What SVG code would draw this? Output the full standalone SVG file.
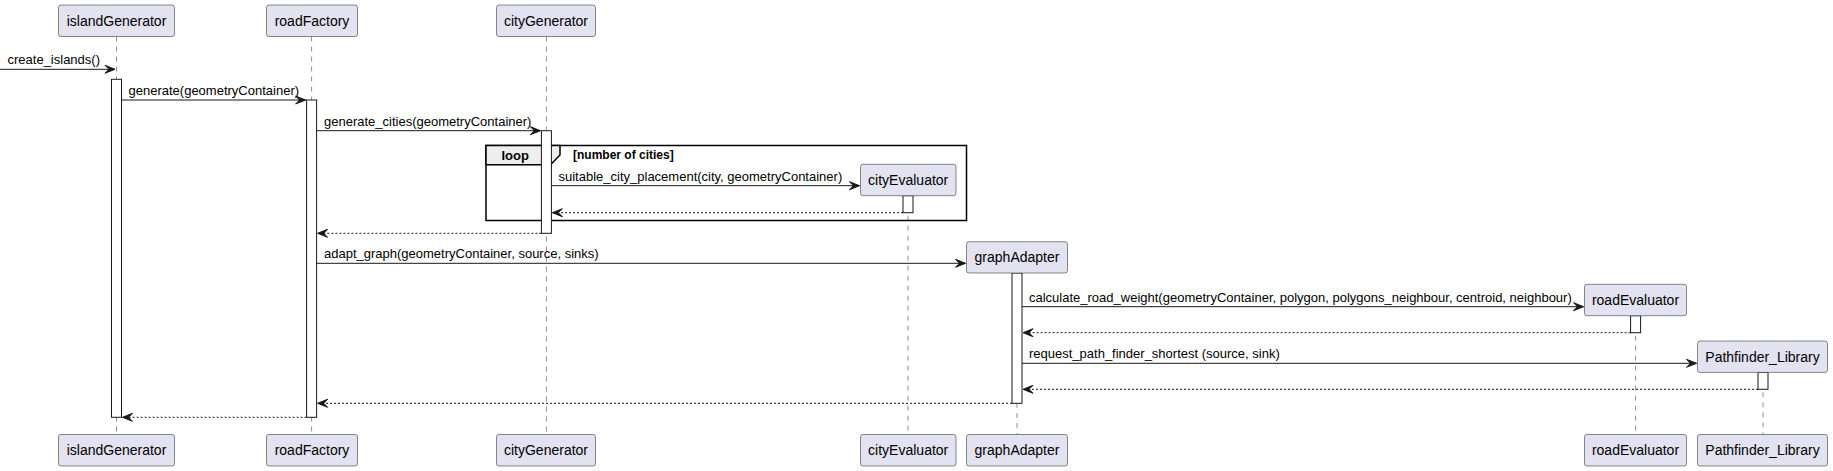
<svg xmlns="http://www.w3.org/2000/svg" width="1833" height="471" viewBox="0 0 1833 471">
<style>
.bg{fill:#FFFFFF}
.life{stroke:#181818;stroke-width:0.5;stroke-dasharray:5,5;fill:none}
.part{fill:#E2E2F0;stroke:#181818;stroke-width:0.5}
.ptxt{font-family:"Liberation Sans",Arial,sans-serif;font-size:14px;fill:#000000;text-anchor:middle}
.act{fill:#FFFFFF;stroke:#181818;stroke-width:1}
.msg{stroke:#181818;stroke-width:1;fill:none;marker-end:url(#arr)}
.ret{stroke:#181818;stroke-width:1;fill:none;stroke-dasharray:2,2;marker-end:url(#arr)}
.mtxt{font-family:"Liberation Sans",Arial,sans-serif;font-size:13px;fill:#000000}
.frame{fill:none;stroke:#000000;stroke-width:1.5}
.tab{fill:#EEEEEE;stroke:#000000;stroke-width:1.5}
.ftxt{font-family:"Liberation Sans",Arial,sans-serif;font-weight:bold;fill:#000000}
</style>
<defs>
<marker id="arr" markerUnits="userSpaceOnUse" markerWidth="12" markerHeight="10" refX="10" refY="4" orient="auto" overflow="visible">
<path d="M0,0 L10,4 L0,8 L4,4 Z" fill="#181818" stroke="#181818" stroke-width="1" stroke-dasharray="none"/>
</marker>
</defs>
<rect class="bg" x="0" y="0" width="1833" height="471"/>

<g id="lifelines">
<line class="life" x1="116.5" y1="36.5" x2="116.5" y2="434.5"/>
<line class="life" x1="311.6" y1="36.5" x2="311.6" y2="434.5"/>
<line class="life" x1="546.4" y1="36.5" x2="546.4" y2="434.5"/>
<line class="life" x1="908" y1="195.7" x2="908" y2="434.5"/>
<line class="life" x1="1017" y1="273" x2="1017" y2="434.5"/>
<line class="life" x1="1635.6" y1="315.7" x2="1635.6" y2="434.5"/>
<line class="life" x1="1763" y1="372.4" x2="1763" y2="434.5"/>
</g>

<g id="loop-frame">
<rect class="frame" x="486" y="145.5" width="480.5" height="75"/>
<path class="tab" d="M486,145.5 L560,145.5 L560,155 L550.5,164.7 L486,164.7 Z"/>
<text class="ftxt" x="501.4" y="159.5" font-size="13">loop</text>
<text class="ftxt" x="573" y="158.5" font-size="12">[number of cities]</text>
</g>

<g id="activations">
<rect class="act" x="111.5" y="79.3" width="10" height="338"/>
<rect class="act" x="306.6" y="100" width="10" height="317.3"/>
<rect class="act" x="541.4" y="130.7" width="10" height="102.6"/>
<rect class="act" x="903" y="195.7" width="10" height="17"/>
<rect class="act" x="1012" y="273" width="10" height="130.3"/>
<rect class="act" x="1630.6" y="315.7" width="10" height="17"/>
<rect class="act" x="1758" y="372.4" width="10" height="16.9"/>
</g>

<g id="node-islandGenerator">
<rect class="part" x="58.5" y="5" width="116" height="31.5" rx="2.5"/>
<text class="ptxt" x="116.5" y="25.8">islandGenerator</text>
<rect class="part" x="58.5" y="434.5" width="116" height="31.5" rx="2.5"/>
<text class="ptxt" x="116.5" y="455.3">islandGenerator</text>
</g>
<g id="node-roadFactory">
<rect class="part" x="266.5" y="5" width="91" height="31.5" rx="2.5"/>
<text class="ptxt" x="312" y="25.8">roadFactory</text>
<rect class="part" x="266.5" y="434.5" width="91" height="31.5" rx="2.5"/>
<text class="ptxt" x="312" y="455.3">roadFactory</text>
</g>
<g id="node-cityGenerator">
<rect class="part" x="496.5" y="5" width="99" height="31.5" rx="2.5"/>
<text class="ptxt" x="546" y="25.8">cityGenerator</text>
<rect class="part" x="496.5" y="434.5" width="99" height="31.5" rx="2.5"/>
<text class="ptxt" x="546" y="455.3">cityGenerator</text>
</g>
<g id="node-cityEvaluator">
<rect class="part" x="860.5" y="164.3" width="95.5" height="31.4" rx="2.5"/>
<text class="ptxt" x="908.2" y="185">cityEvaluator</text>
<rect class="part" x="860.5" y="434.5" width="95.5" height="31.5" rx="2.5"/>
<text class="ptxt" x="908.2" y="455.3">cityEvaluator</text>
</g>
<g id="node-graphAdapter">
<rect class="part" x="966.5" y="241.7" width="101" height="31.3" rx="2.5"/>
<text class="ptxt" x="1017" y="262.4">graphAdapter</text>
<rect class="part" x="966.5" y="434.5" width="101" height="31.5" rx="2.5"/>
<text class="ptxt" x="1017" y="455.3">graphAdapter</text>
</g>
<g id="node-roadEvaluator">
<rect class="part" x="1584.5" y="284.3" width="102" height="31.4" rx="2.5"/>
<text class="ptxt" x="1635.5" y="305">roadEvaluator</text>
<rect class="part" x="1584.5" y="434.5" width="102" height="31.5" rx="2.5"/>
<text class="ptxt" x="1635.5" y="455.3">roadEvaluator</text>
</g>
<g id="node-Pathfinder_Library">
<rect class="part" x="1697.5" y="341" width="130" height="31.4" rx="2.5"/>
<text class="ptxt" x="1762.5" y="361.7">Pathfinder_Library</text>
<rect class="part" x="1697.5" y="434.5" width="130" height="31.5" rx="2.5"/>
<text class="ptxt" x="1762.5" y="455.3">Pathfinder_Library</text>
</g>

<g id="connectors">
<line class="msg" x1="0" y1="69.3" x2="115" y2="69.3"/>
<text class="mtxt" x="7.5" y="64.3">create_islands()</text>
<line class="msg" x1="121.5" y1="100" x2="305.6" y2="100"/>
<text class="mtxt" x="128.5" y="95">generate(geometryContainer)</text>
<line class="msg" x1="316.6" y1="130.7" x2="540.4" y2="130.7"/>
<text class="mtxt" x="324" y="125.7">generate_cities(geometryContainer)</text>
<line class="msg" x1="551.4" y1="185.7" x2="859.5" y2="185.7"/>
<text class="mtxt" x="558.5" y="180.7">suitable_city_placement(city, geometryContainer)</text>
<line class="ret" x1="903" y1="212.7" x2="552.4" y2="212.7"/>
<line class="ret" x1="541.4" y1="233.3" x2="317.6" y2="233.3"/>
<line class="msg" x1="316.6" y1="263.3" x2="965.5" y2="263.3"/>
<text class="mtxt" x="324" y="258.3">adapt_graph(geometryContainer, source, sinks)</text>
<line class="msg" x1="1022" y1="306.7" x2="1583.5" y2="306.7"/>
<text class="mtxt" x="1029" y="301.7">calculate_road_weight(geometryContainer, polygon, polygons_neighbour, centroid, neighbour)</text>
<line class="ret" x1="1630.6" y1="332.7" x2="1023" y2="332.7"/>
<line class="msg" x1="1022" y1="363.3" x2="1696.5" y2="363.3"/>
<text class="mtxt" x="1029" y="358.3">request_path_finder_shortest (source, sink)</text>
<line class="ret" x1="1758" y1="389.3" x2="1023" y2="389.3"/>
<line class="ret" x1="1012" y1="403.3" x2="317.6" y2="403.3"/>
<line class="ret" x1="306.6" y1="417.3" x2="122.5" y2="417.3"/>
</g>
</svg>
